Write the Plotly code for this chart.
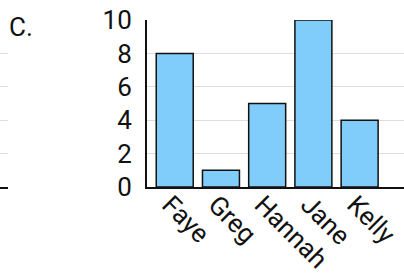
import plotly.graph_objects as go

names = ["Faye", "Greg", "Hannah", "Jane", "Kelly"]
values = [8, 1, 5, 10, 4]
y_ticks = [0, 2, 4, 6, 8, 10]

FONT = "Roboto"
fig = go.Figure()
fig.add_trace(go.Bar(x=names, y=values, width=0.8,
                     marker=dict(color="#80ccfa", line=dict(color="#111", width=1.5)),
                     xaxis="x", yaxis="y"))
# partial neighbouring panel on the left (only gridlines and axis visible)
fig.add_trace(go.Scatter(x=[0], y=[None], mode="markers", showlegend=False,
                         xaxis="x2", yaxis="y2", hoverinfo="skip"))

fig.update_layout(
    width=404, height=277,
    margin=dict(l=0, r=0, t=20, b=90),
    paper_bgcolor="white", plot_bgcolor="white",
    showlegend=False,
    font=dict(family=FONT, size=26, color="#111"),
    xaxis=dict(domain=[147/404, 1.0], range=[-0.6, 4.96], showline=True, linecolor="#111",
               linewidth=2, showgrid=False, tickangle=45, tickfont=dict(size=26),
               ticks="", ticklabelstandoff=-10, ticklabelshift=-5, automargin=False),
    yaxis=dict(range=[0, 10], tickvals=y_ticks, showline=True, linecolor="#111", linewidth=2,
               showgrid=True, gridcolor="#dddddd", gridwidth=1, ticks="",
               ticklabelstandoff=8, zeroline=False, tickfont=dict(size=26), automargin=False),
    xaxis2=dict(domain=[0, 8/404], range=[0, 1], showline=True, linecolor="#111", linewidth=2,
                showgrid=False, showticklabels=False, zeroline=False, anchor="y2",
                automargin=False),
    yaxis2=dict(range=[0, 10], tickvals=y_ticks, showline=False, showgrid=True,
                gridcolor="#dddddd", gridwidth=1, showticklabels=False, zeroline=False,
                anchor="x2", automargin=False),
    annotations=[dict(text="C.", xref="paper", yref="paper", x=10/404, y=1.0,
                      xanchor="left", yanchor="top", showarrow=False, yshift=10, xshift=-3,
                      font=dict(size=26, family=FONT, color="#111"))],
)
fig.write_html("out.html", post_script="document.body.style.margin='0';",
               config={"displayModeBar": False})
